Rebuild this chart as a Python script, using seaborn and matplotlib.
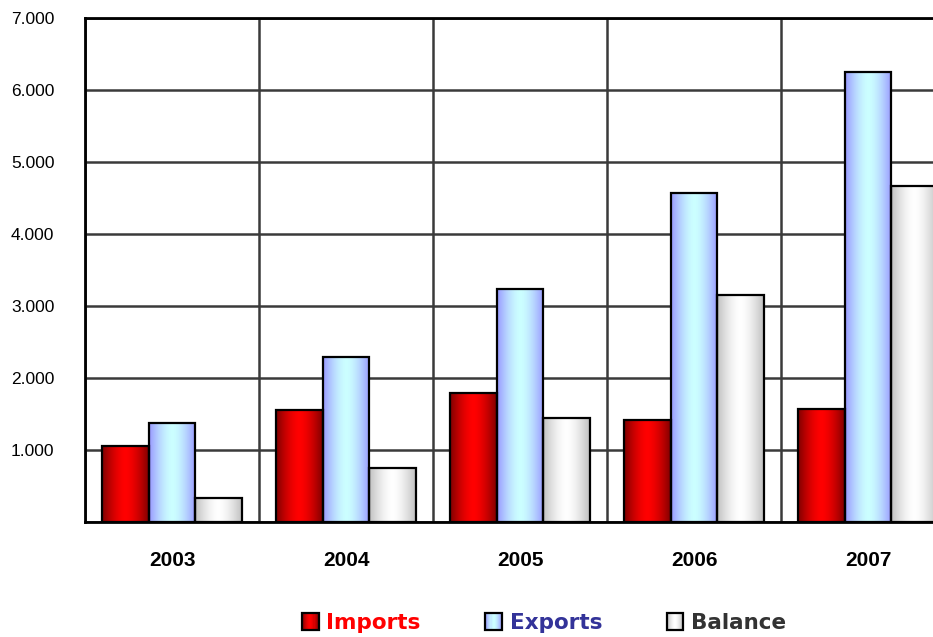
import numpy as np
import pandas as pd
import matplotlib
matplotlib.use('Agg')
import matplotlib.pyplot as plt
import seaborn as sns
from matplotlib.patches import Rectangle
from matplotlib.legend_handler import HandlerBase
from matplotlib.ticker import FuncFormatter, MultipleLocator

# Data
years = ['2003', '2004', '2005', '2006', '2007']
imports = [1050, 1555, 1790, 1415, 1570]
exports = [1375, 2290, 3240, 4570, 6250]
balance = [330, 750, 1445, 3155, 4670]
series = ['Imports', 'Exports', 'Balance']

# edge colour -> centre colour of each bar gradient, and legend text colours
grad_colors = {'Imports': ('#800000', '#ff0000'),
               'Exports': ('#9999ff', '#ccffff'),
               'Balance': ('#c0c0c0', '#ffffff')}
text_colors = {'Imports': '#ff0000', 'Exports': '#333399', 'Balance': '#333333'}

df = pd.DataFrame({'Year': years * 3,
                   'Series': ['Imports'] * 5 + ['Exports'] * 5 + ['Balance'] * 5,
                   'Value': imports + exports + balance})


def gradient(edge, centre, n=64):
    e = np.array(matplotlib.colors.to_rgb(edge))
    c = np.array(matplotlib.colors.to_rgb(centre))
    t = np.linspace(-1, 1, n)
    w = 1 - np.abs(t) ** 1.6
    return (e[None, :] + (c - e)[None, :] * w[:, None])[None, :, :]


sns.set_style('white')
fig = plt.figure(figsize=(9.33, 6.37), dpi=100)
ax = fig.add_axes([85 / 933, 115 / 637, 870 / 933, 504 / 637])

sns.barplot(data=df, x='Year', y='Value', hue='Series', hue_order=series,
            width=0.81, gap=0, ax=ax, legend=False, errorbar=None)

# gradient fill for every bar, clipped to the bar rectangle
for name, cont in zip(series, ax.containers):
    img = gradient(*grad_colors[name])
    for p in cont.patches:
        x0, y0, w, h = p.get_x(), p.get_y(), p.get_width(), p.get_height()
        im = ax.imshow(img, extent=[x0, x0 + w, y0, y0 + h], aspect='auto',
                       interpolation='bilinear', zorder=2)
        im.set_clip_path(p)
        p.set_facecolor('none')
        p.set_edgecolor('black')
        p.set_linewidth(1.6)
        p.set_zorder(3)

ax.set_xlim(-0.5, 4.5)
ax.set_ylim(0, 7000)
ax.set_aspect('auto')
ax.yaxis.set_major_locator(MultipleLocator(1000))
ax.yaxis.set_major_formatter(FuncFormatter(
    lambda v, pos: '' if v == 0 else f'{int(v):,}'.replace(',', '.')))
ax.set_xticks(range(len(years)), years)
ax.set_xticks(np.arange(-0.5, 5, 1), minor=True)

ax.set_axisbelow(True)
ax.grid(True, axis='y', which='major', color='#3a3a3a', linewidth=1.8)
ax.grid(True, axis='x', which='minor', color='#3a3a3a', linewidth=1.8)
ax.grid(False, axis='x', which='major')
ax.tick_params(axis='both', which='both', length=0, labelcolor='black')
ax.tick_params(axis='y', labelsize=12.5, pad=22)
ax.tick_params(axis='x', labelsize=15, pad=21)
for lab in ax.get_xticklabels():
    lab.set_fontweight('bold')
for lab in ax.get_xticklabels() + ax.get_yticklabels():
    lab.set_family('Liberation Sans')
ax.set_xlabel('')
ax.set_ylabel('')
for s in ax.spines.values():
    s.set_color('black')
    s.set_linewidth(2)
ax.spines['right'].set_visible(False)


class GradientHandler(HandlerBase):
    def create_artists(self, legend, orig_handle, xdescent, ydescent,
                       width, height, fontsize, trans):
        img = orig_handle[0, :, :]
        n = img.shape[0]
        arts = []
        for i in range(n):
            arts.append(Rectangle((-xdescent + width * i / n, -ydescent), width / n + 0.3,
                                  height, facecolor=img[i], edgecolor='none',
                                  transform=trans))
        arts.append(Rectangle((-xdescent, -ydescent), width, height, facecolor='none',
                              edgecolor='black', linewidth=1.6, transform=trans))
        return arts


class GradKey:
    def __init__(self, arr):
        self.arr = arr

    def __getitem__(self, k):
        return self.arr[k]


handles = [GradKey(gradient(*grad_colors[s], n=16)) for s in series]
leg = fig.legend(handles, series, loc='center', bbox_to_anchor=(544 / 933, 1 - 623 / 637),
                 ncol=3, frameon=False, handler_map={GradKey: GradientHandler()},
                 prop={'family': 'DejaVu Sans', 'weight': 'bold', 'size': 15.5},
                 handlelength=0.78, handleheight=0.85, handletextpad=0.35,
                 columnspacing=3.0)
for t in leg.get_texts():
    t.set_color(text_colors[t.get_text()])

fig.savefig('out.png', dpi=100, facecolor='white')
